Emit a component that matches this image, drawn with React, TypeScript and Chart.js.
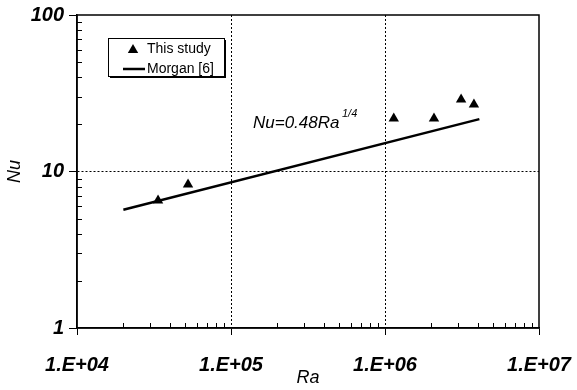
import React, { useEffect, useRef } from "react";
import { Chart, registerables } from "chart.js";

Chart.register(...registerables);

// Data
const studyRa = [3.36e4, 5.26e4, 1.14e6, 2.08e6, 3.12e6, 3.78e6];
const studyNu = [6.53, 8.26, 21.8, 21.8, 28.8, 26.8];
const morganRa = [2.0e4, 4.1e6];
const morganNu = [5.7, 21.6];

const xTickValues = [1e4, 1e5, 1e6, 1e7];
const xTickLabels = ["1.E+04", "1.E+05", "1.E+06", "1.E+07"];
const yTickValues = [1, 10, 100];
const yTickLabels = ["1", "10", "100"];
const minorMultipliers = [2, 3, 4, 5, 6, 7, 8, 9];

const seriesNames = ["This study", "Morgan [6]"];
const FONT = "'Liberation Sans', Arial, Helvetica, sans-serif";

const decorPlugin = {
  id: "decor",
  afterDraw(chart: any) {
    const { ctx, chartArea } = chart;
    const xs = chart.scales.x;
    const ys = chart.scales.y;
    const { left, right, top, bottom } = chartArea;
    ctx.save();
    // frame
    ctx.strokeStyle = "#000";
    ctx.lineWidth = 1.5;
    ctx.setLineDash([]);
    ctx.strokeRect(left, top, right - left, bottom - top);

    // minor ticks inward
    ctx.lineWidth = 1;
    ctx.beginPath();
    for (let i = 0; i < xTickValues.length - 1; i++) {
      for (const m of minorMultipliers) {
        const px = Math.round(xs.getPixelForValue(xTickValues[i] * m)) + 0.5;
        ctx.moveTo(px, bottom);
        ctx.lineTo(px, bottom - 5);
      }
    }
    for (let i = 0; i < yTickValues.length - 1; i++) {
      for (const m of minorMultipliers) {
        const py = Math.round(ys.getPixelForValue(yTickValues[i] * m)) + 0.5;
        ctx.moveTo(left, py);
        ctx.lineTo(left + 5, py);
      }
    }
    ctx.stroke();

    // legend box
    const lx = 108, ly = 38, lw = 116, lh = 38;
    ctx.fillStyle = "#000";
    ctx.fillRect(lx + 2, ly + 2, lw, lh);
    ctx.fillStyle = "#fff";
    ctx.fillRect(lx, ly, lw, lh);
    ctx.strokeStyle = "#000";
    ctx.lineWidth = 1;
    ctx.strokeRect(lx + 0.5, ly + 0.5, lw, lh);

    // legend entries
    ctx.fillStyle = "#000";
    const tx = 133, ty = 50;
    ctx.beginPath();
    ctx.moveTo(tx, ty - 6);
    ctx.lineTo(tx + 5.2, ty + 3);
    ctx.lineTo(tx - 5.2, ty + 3);
    ctx.closePath();
    ctx.fill();
    ctx.beginPath();
    ctx.lineWidth = 2.5;
    ctx.moveTo(123, 69);
    ctx.lineTo(145, 69);
    ctx.stroke();
    ctx.font = `14px ${FONT}`;
    ctx.textBaseline = "middle";
    ctx.textAlign = "left";
    ctx.fillText(seriesNames[0], 147, 49);
    ctx.fillText(seriesNames[1], 147, 69);

    // annotation
    ctx.textBaseline = "alphabetic";
    ctx.font = `italic 17px ${FONT}`;
    ctx.fillText("Nu=0.48Ra", 253, 128);
    ctx.font = `italic 11px ${FONT}`;
    ctx.fillText("1/4", 342, 117);
    ctx.restore();
  },
};

export default function App() {
  const ref = useRef<HTMLCanvasElement>(null);
  useEffect(() => {
    document.body.style.margin = "0";
    const canvas = ref.current!;
    const chart = new Chart(canvas, {
      type: "scatter",
      data: {
        datasets: [
          {
            label: seriesNames[0],
            data: studyRa.map((x, i) => ({ x, y: studyNu[i] })),
            pointStyle: "triangle",
            pointRadius: 6,
            backgroundColor: "#000",
            borderColor: "#000",
            borderWidth: 0,
            showLine: false,
          },
          {
            label: seriesNames[1],
            data: morganRa.map((x, i) => ({ x, y: morganNu[i] })),
            showLine: true,
            borderColor: "#000",
            borderWidth: 2.5,
            pointRadius: 0,
          },
        ],
      },
      options: {
        animation: false,
        responsive: false,
        devicePixelRatio: 1,
        layout: { padding: { top: 15, right: 38, left: 0, bottom: 0 } },
        plugins: {
          legend: { display: false },
          tooltip: { enabled: false },
        },
        scales: {
          x: {
            type: "logarithmic",
            min: 1e4,
            max: 1e7,
            afterBuildTicks: (s: any) => {
              s.ticks = xTickValues.map((v) => ({ value: v }));
            },
            afterFit: (s: any) => {
              s.height = 62;
              s.paddingLeft = 0;
              s.paddingRight = 0;
            },
            ticks: {
              autoSkip: false,
              maxRotation: 0,
              padding: 18,
              color: "#000",
              font: { family: FONT, size: 20, style: "italic", weight: "bold" },
              callback: (v: any) => {
                const i = xTickValues.indexOf(Number(v));
                return i >= 0 ? xTickLabels[i] : "";
              },
            },
            grid: {
              color: (c: any) =>
                c.tick && (c.tick.value === 1e5 || c.tick.value === 1e6)
                  ? "#000"
                  : "rgba(0,0,0,0)",
              tickColor: "#000",
              tickLength: 7,
              lineWidth: 1,
            },
            border: { display: true, color: "#000", width: 1.5, dash: [2, 2] },
            title: {
              display: true,
              text: "Ra",
              color: "#000",
              font: { family: FONT, size: 18, style: "italic" },
              padding: { top: 0, bottom: 1 },
            },
          },
          y: {
            type: "logarithmic",
            min: 1,
            max: 100,
            afterBuildTicks: (s: any) => {
              s.ticks = yTickValues.map((v) => ({ value: v }));
            },
            afterFit: (s: any) => {
              s.width = 77;
              s.paddingTop = 0;
              s.paddingBottom = 0;
            },
            ticks: {
              autoSkip: false,
              padding: 5,
              color: "#000",
              font: { family: FONT, size: 20, style: "italic", weight: "bold" },
              callback: (v: any) => {
                const i = yTickValues.indexOf(Number(v));
                return i >= 0 ? yTickLabels[i] : "";
              },
            },
            grid: {
              color: (c: any) =>
                c.tick && c.tick.value === 10 ? "#000" : "rgba(0,0,0,0)",
              tickColor: "#000",
              tickLength: 8,
              lineWidth: 1,
            },
            border: { display: true, color: "#000", width: 1.5, dash: [2, 2] },
            title: {
              display: true,
              text: "Nu",
              color: "#000",
              font: { family: FONT, size: 18, style: "italic" },
              padding: { top: 4, bottom: 0 },
            },
          },
        },
      } as any,
      plugins: [decorPlugin],
    });
    return () => chart.destroy();
  }, []);
  return (
    <div style={{ width: 577, height: 390 }}>
      <canvas ref={ref} width={577} height={390} />
    </div>
  );
}
